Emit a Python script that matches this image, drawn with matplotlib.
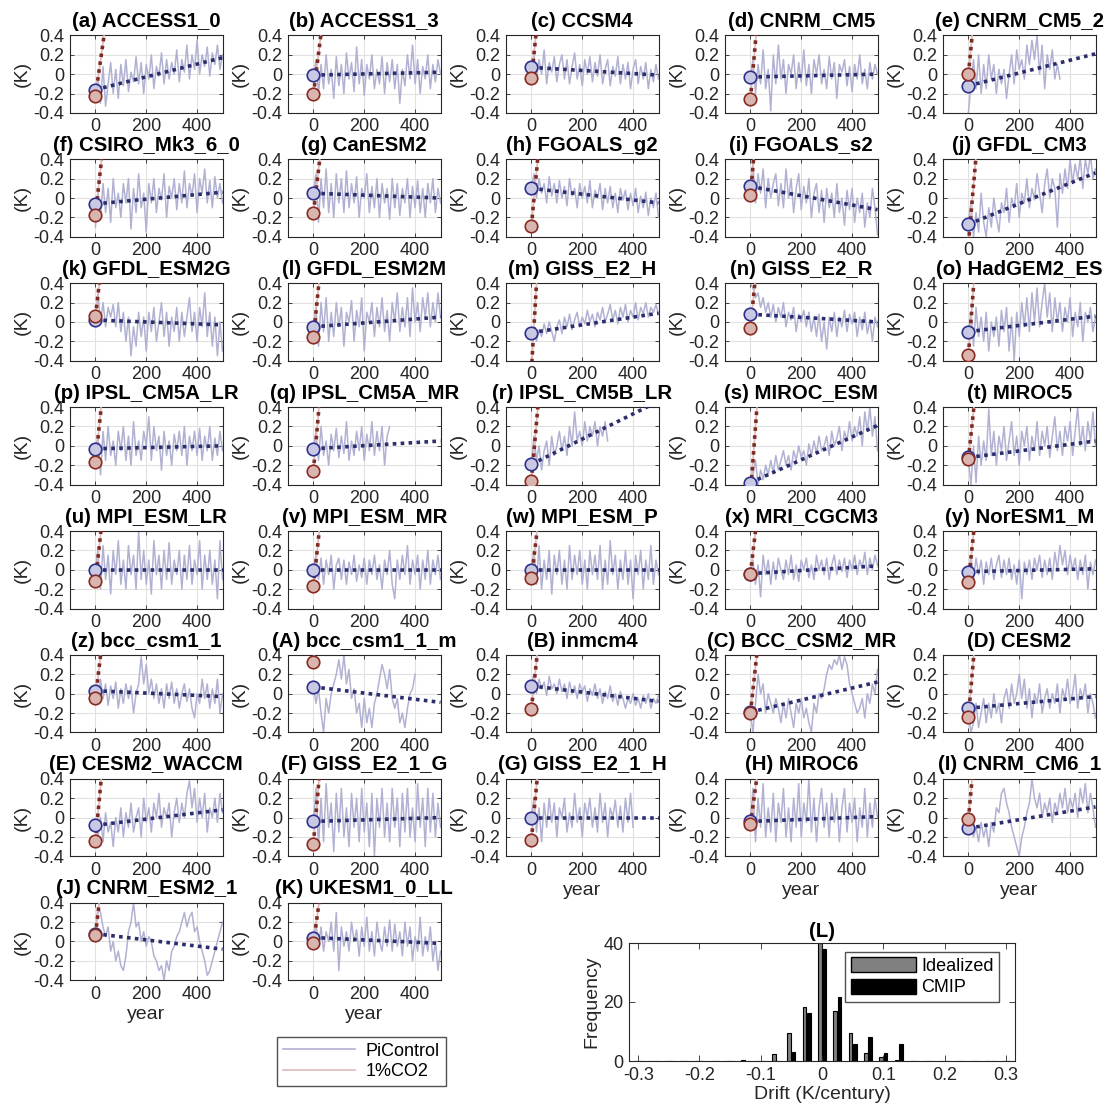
import numpy as np
import matplotlib
matplotlib.use('Agg')
import matplotlib.pyplot as plt
from matplotlib.lines import Line2D
from matplotlib.patches import Patch

plt.rcParams['font.family'] = ['Liberation Sans', 'DejaVu Sans']

# ---------------- data ----------------
letters = list('abcdefghijklmnopqrstuvwxyz') + list('ABCDEFGHIJK')
models = ['ACCESS1_0', 'ACCESS1_3', 'CCSM4', 'CNRM_CM5', 'CNRM_CM5_2',
          'CSIRO_Mk3_6_0', 'CanESM2', 'FGOALS_g2', 'FGOALS_s2', 'GFDL_CM3',
          'GFDL_ESM2G', 'GFDL_ESM2M', 'GISS_E2_H', 'GISS_E2_R', 'HadGEM2_ES',
          'IPSL_CM5A_LR', 'IPSL_CM5A_MR', 'IPSL_CM5B_LR', 'MIROC_ESM', 'MIROC5',
          'MPI_ESM_LR', 'MPI_ESM_MR', 'MPI_ESM_P', 'MRI_CGCM3', 'NorESM1_M',
          'bcc_csm1_1', 'bcc_csm1_1_m', 'inmcm4', 'BCC_CSM2_MR', 'CESM2',
          'CESM2_WACCM', 'GISS_E2_1_G', 'GISS_E2_1_H', 'MIROC6', 'CNRM_CM6_1',
          'CNRM_ESM2_1', 'UKESM1_0_LL']

# PiControl anomalies (K), one value every 10 years from year 0
pi_a = [-0.15, -0.05, -0.3, 0.08, -0.33, -0.1, 0.12, -0.2, 0.05, -0.25, 0.1, -0.12, 0.15, -0.18, 0.02, -0.08, 0.18, -0.1, 0.12, -0.2, 0.1, -0.05, 0.2, -0.15, 0.08, -0.02, 0.22, -0.1, 0.15, -0.05, 0.12, 0.0, 0.25, -0.08, 0.15, 0.02, 0.3, -0.05, 0.2, 0.05, 0.35, 0.0, 0.2, 0.08, 0.28, -0.02, 0.22, 0.1, 0.3, 0.05, 0.2]
pi_b = [-0.05, 0.15, -0.2, 0.1, -0.15, 0.2, -0.1, 0.05, -0.25, 0.18, -0.12, 0.1, -0.2, 0.22, -0.05, 0.12, -0.18, 0.28, -0.1, 0.15, -0.22, 0.1, -0.05, 0.2, -0.15, 0.05, -0.1, 0.18, -0.2, 0.12, -0.08, 0.15, -0.15, 0.1, -0.3, 0.05, -0.12, 0.2, -0.05, 0.3, -0.1, 0.15, -0.2, 0.08, -0.05, 0.2, -0.15, 0.1, -0.08, 0.15, 0.0]
pi_c = [0.05, 0.2, -0.05, 0.15, 0.0, 0.25, -0.1, 0.12, 0.02, 0.18, -0.08, 0.1, 0.2, -0.05, 0.15, -0.1, 0.08, 0.22, -0.05, 0.1, -0.12, 0.15, 0.0, 0.18, -0.08, 0.12, -0.02, 0.2, -0.1, 0.05, 0.15, -0.12, 0.08, -0.02, 0.18, -0.1, 0.1, -0.05, 0.12, -0.15, 0.05, 0.15, -0.1, 0.08, -0.05, 0.12, -0.15, 0.05, -0.08, 0.1, -0.05]
pi_d = [-0.05, 0.15, -0.2, 0.1, -0.1, 0.25, -0.15, 0.05, -0.38, 0.2, -0.1, 0.3, -0.05, 0.15, -0.2, 0.1, 0.0, 0.2, -0.15, 0.12, -0.08, 0.25, -0.12, 0.1, -0.2, 0.15, 0.0, 0.2, -0.1, 0.05, -0.15, 0.18, -0.05, 0.12, -0.25, 0.1, 0.02, 0.15, -0.12, 0.08, -0.18, 0.1, -0.05, 0.2, -0.1, 0.05, -0.15, 0.12, -0.05, 0.1, 0.0]
pi_e = [-0.4, -0.1, 0.15, -0.15, 0.2, -0.2, 0.1, -0.15, 0.2, -0.05, 0.1, -0.2, 0.05, -0.1, 0.05, -0.25, 0.0, 0.2, -0.1, 0.25, 0.05, 0.15, -0.05, 0.3, 0.1, 0.35, 0.15, 0.4, 0.0, 0.3, -0.15, 0.2, 0.05, 0.25, -0.05, 0.1, -0.05]
pi_f = [-0.3, 0.05, -0.2, 0.15, -0.15, 0.1, -0.25, 0.2, -0.1, 0.05, -0.2, 0.15, -0.05, 0.2, -0.32, 0.1, -0.15, 0.25, -0.1, 0.05, -0.35, 0.15, -0.05, 0.2, -0.15, 0.1, -0.02, 0.25, -0.2, 0.12, 0.0, 0.2, -0.12, 0.15, -0.05, 0.28, -0.1, 0.15, 0.02, 0.25, -0.15, 0.2, 0.05, 0.3, -0.05, 0.18, -0.1, 0.22, 0.0, 0.15, -0.05]
pi_g = [0.05, 0.25, -0.25, 0.2, -0.1, 0.3, -0.15, 0.15, -0.2, 0.25, -0.05, 0.2, -0.15, 0.28, -0.1, 0.15, -0.05, 0.22, -0.2, 0.1, 0.0, 0.25, -0.15, 0.12, -0.1, 0.2, -0.2, 0.15, -0.05, 0.1, -0.22, 0.2, -0.1, 0.15, -0.18, 0.1, -0.05, 0.2, -0.2, 0.12, -0.1, 0.18, -0.15, 0.1, -0.2, 0.15, -0.05, 0.2, -0.15, 0.1, -0.05]
pi_h = [0.1, 0.25, 0.0, 0.2, 0.05, 0.15, -0.05, 0.22, 0.02, 0.15, -0.05, 0.18, 0.0, 0.12, -0.08, 0.2, 0.02, 0.1, -0.1, 0.15, 0.0, 0.12, -0.05, 0.18, -0.1, 0.08, 0.0, 0.15, -0.12, 0.1, -0.05, 0.12, -0.1, 0.05, -0.15, 0.1, -0.02, 0.08, -0.12, 0.05, -0.08, 0.1, -0.15, 0.02, -0.1, 0.06, -0.18, 0.0, -0.1, 0.05, -0.2]
pi_i = [0.1, 0.35, -0.05, 0.25, 0.05, 0.3, -0.1, 0.2, 0.0, 0.15, 0.25, -0.08, 0.15, -0.1, 0.3, 0.0, 0.2, -0.15, 0.1, 0.25, -0.12, 0.12, -0.05, 0.2, -0.2, 0.05, 0.15, -0.15, 0.08, -0.25, 0.1, -0.1, 0.05, -0.2, 0.15, -0.15, 0.0, -0.28, 0.08, -0.12, 0.1, -0.25, 0.0, -0.15, 0.05, -0.3, -0.05, -0.2, 0.1, -0.1, -0.38]
pi_j = [-0.25, -0.05, -0.4, -0.15, -0.35, 0.05, -0.25, -0.4, -0.1, -0.3, 0.0, -0.2, -0.35, -0.05, -0.15, 0.1, -0.25, 0.0, -0.1, 0.15, -0.2, 0.05, -0.05, 0.2, -0.1, 0.1, -0.02, 0.25, 0.05, -0.15, 0.15, 0.3, 0.0, 0.2, 0.1, -0.3, 0.25, 0.05, 0.3, 0.1, 0.4, 0.15, 0.35, 0.2, 0.42, 0.1, 0.4, 0.25, 0.45, 0.2, 0.3]
pi_k = [0.05, 0.3, 0.0, 0.2, -0.05, 0.15, 0.05, 0.18, -0.05, 0.2, -0.1, 0.1, -0.2, 0.05, -0.35, -0.05, -0.25, 0.1, -0.15, 0.05, -0.3, 0.1, -0.1, 0.15, -0.2, 0.0, 0.2, -0.15, 0.1, -0.25, 0.05, -0.1, 0.15, -0.2, 0.1, -0.15, 0.05, 0.25, -0.1, 0.1, -0.2, 0.15, -0.05, 0.3, -0.15, 0.1, -0.25, 0.05, -0.35, 0.0, -0.3]
pi_l = [-0.05, 0.15, -0.25, 0.2, -0.1, 0.25, -0.2, 0.1, -0.15, 0.2, -0.05, 0.15, -0.25, 0.1, 0.0, 0.22, -0.2, 0.12, -0.05, 0.25, -0.3, 0.1, 0.0, 0.2, -0.15, 0.15, -0.05, 0.25, -0.1, 0.12, -0.2, 0.2, 0.0, 0.3, -0.1, 0.15, -0.05, 0.25, -0.15, 0.35, 0.0, 0.2, -0.1, 0.25, 0.05, 0.3, -0.05, 0.2, 0.0, 0.3, 0.05]
pi_m = [-0.15, -0.05, -0.2, -0.08, -0.15, -0.02, -0.12, 0.0, -0.1, -0.2, -0.05, 0.02, -0.12, 0.05, -0.05, 0.08, -0.08, 0.02, 0.1, -0.05, 0.05, -0.02, 0.12, 0.0, 0.08, -0.05, 0.1, 0.02, 0.15, 0.0, 0.08, 0.18, 0.02, 0.12, -0.02, 0.15, 0.05, 0.18, 0.0, 0.12, 0.05, 0.2, 0.02, 0.15, 0.08, 0.2, 0.05, 0.15, 0.1, 0.18, 0.08]
pi_n = [0.4, 0.35, 0.25, 0.3, 0.15, 0.25, 0.1, 0.2, 0.05, 0.18, 0.0, 0.15, 0.05, 0.2, -0.05, 0.1, 0.02, 0.15, -0.1, 0.08, 0.0, 0.12, -0.05, 0.1, -0.1, 0.05, -0.15, 0.08, -0.2, 0.0, -0.28, 0.05, -0.1, 0.1, -0.15, 0.05, -0.05, 0.12, -0.1, 0.08, -0.02, 0.1, -0.15, 0.05, -0.08, 0.1, -0.12, 0.02, -0.2, 0.05, -0.05]
pi_o = [-0.1, 0.1, -0.25, 0.15, -0.15, 0.05, -0.2, 0.1, -0.3, 0.0, -0.15, 0.05, -0.25, 0.12, -0.1, 0.15, -0.3, 0.05, -0.4, 0.1, -0.15, 0.2, -0.05, 0.25, -0.1, 0.3, 0.0, 0.35, -0.05, 0.2, 0.4, 0.05, 0.3, -0.1, 0.25, 0.0, 0.2, -0.1, 0.15, 0.0, 0.25, -0.15, 0.1, -0.05, 0.2, -0.2, 0.1, 0.0, 0.15, -0.1, 0.05]
pi_p = [-0.05, 0.1, -0.3, 0.15, -0.15, 0.2, -0.1, 0.05, -0.2, 0.15, -0.05, 0.2, -0.15, 0.1, -0.2, 0.25, -0.1, 0.05, -0.15, 0.15, 0.0, 0.3, -0.15, 0.2, -0.05, 0.1, -0.25, 0.15, -0.1, 0.05, -0.2, 0.12, -0.05, 0.15, -0.1, 0.2, -0.2, 0.1, -0.05, 0.15, -0.1, 0.18, -0.15, 0.1, -0.05, 0.2, -0.15, 0.08, -0.1, 0.15, -0.05]
pi_q = [-0.05, 0.15, -0.15, 0.2, -0.1, 0.05, -0.2, 0.12, -0.05, 0.18, -0.12, 0.1, -0.08, 0.25, -0.15, 0.05, -0.1, 0.15, -0.05, 0.2, -0.15, 0.12, -0.05, 0.25, -0.1, 0.15, -0.05, 0.2, -0.2, 0.1, 0.2]
pi_r = [-0.2, 0.1, -0.15, 0.0, -0.25, -0.05, 0.05, -0.2, 0.1, -0.1, 0.0, 0.15, -0.05, 0.1, -0.1, 0.2, 0.0, 0.35, 0.05, 0.15, 0.0, 0.25, 0.05, 0.2, 0.1, 0.25, 0.0, 0.2, 0.1, 0.25, 0.05]
pi_s = [-0.4, -0.3, -0.15, -0.4, -0.25, -0.35, -0.2, -0.3, -0.15, -0.28, -0.1, -0.25, -0.15, -0.05, -0.2, -0.1, -0.25, -0.05, -0.15, 0.0, -0.12, -0.05, -0.2, 0.02, -0.1, 0.05, -0.08, 0.1, -0.05, 0.0, 0.1, -0.1, 0.15, 0.0, 0.08, 0.2, -0.05, 0.15, 0.05, 0.25, 0.05, 0.2, 0.1, 0.3, 0.0, 0.35, 0.15, 0.4, 0.1, 0.3, -0.05]
pi_t = [-0.15, -0.4, 0.0, -0.38, 0.1, -0.2, 0.05, -0.15, 0.38, -0.1, 0.15, -0.2, 0.1, -0.05, 0.2, -0.15, 0.05, 0.25, -0.1, 0.1, -0.2, 0.15, 0.0, 0.2, -0.15, 0.1, -0.05, 0.25, -0.1, 0.15, 0.0, 0.2, -0.12, 0.1, 0.3, -0.05, 0.15, -0.1, 0.2, 0.05, 0.25, -0.1, 0.15, 0.4, 0.0, 0.2, -0.05, 0.25, 0.05, 0.35, 0.0]
pi_u = [0.0, 0.2, -0.2, 0.25, -0.1, 0.15, -0.25, 0.2, -0.05, 0.3, -0.15, 0.1, -0.2, 0.25, -0.05, 0.15, -0.2, 0.4, -0.1, 0.2, -0.15, 0.1, -0.25, 0.3, -0.05, 0.15, -0.2, 0.2, -0.1, 0.28, -0.15, 0.1, -0.05, 0.2, -0.2, 0.15, -0.1, 0.25, -0.15, 0.1, -0.05, 0.3, -0.2, 0.15, -0.1, 0.2, -0.15, 0.1, -0.3, 0.3, -0.1]
pi_v = [0.0, 0.15, -0.1, 0.12, -0.15, 0.1, -0.05, 0.15, -0.2, 0.05, 0.12, -0.1, 0.1, -0.15, 0.08, -0.05, 0.15, -0.12, 0.05, -0.08, 0.12, -0.15, 0.1, -0.05, 0.15, -0.1, 0.05, -0.2, 0.1, -0.05, 0.2, -0.15, -0.3, 0.1, -0.1, 0.15, -0.05, 0.25, -0.15, 0.1, -0.05, 0.15, -0.2, 0.1, -0.1, 0.2, -0.15, 0.1, -0.05, 0.15, -0.1]
pi_w = [0.0, 0.2, -0.15, 0.25, -0.2, 0.1, -0.1, 0.2, -0.25, 0.15, -0.05, 0.2, -0.15, 0.1, -0.2, 0.25, -0.1, 0.15, -0.05, 0.2, -0.15, 0.1, -0.2, 0.2, -0.05, 0.15, -0.1, 0.25, -0.2, 0.1, -0.15, 0.3, -0.05, 0.15, -0.2, 0.1, -0.1, 0.2, -0.15, 0.1, -0.3, 0.15, -0.05, 0.2, -0.2, 0.1, -0.1, 0.25, -0.15, 0.1, -0.05]
pi_x = [-0.05, 0.1, -0.15, 0.05, -0.28, 0.15, -0.05, 0.1, -0.15, 0.08, -0.1, 0.12, 0.0, -0.1, 0.1, -0.05, 0.15, -0.1, 0.05, -0.12, 0.1, 0.0, 0.12, -0.08, 0.05, -0.1, 0.15, 0.0, 0.1, -0.05, 0.12, -0.1, 0.05, 0.15, -0.05, 0.1, -0.02, 0.12, -0.08, 0.1, 0.0, 0.15, -0.05, 0.1, 0.02, 0.18, -0.05, 0.12, 0.0, 0.15, 0.05]
pi_y = [-0.05, 0.15, -0.1, 0.12, -0.05, 0.1, -0.15, 0.08, -0.05, 0.12, -0.1, 0.05, 0.15, -0.08, 0.1, -0.05, 0.12, -0.1, 0.05, -0.15, 0.1, -0.3, 0.08, -0.05, 0.1, -0.1, 0.12, 0.0, 0.15, -0.08, 0.1, -0.05, 0.12, -0.1, 0.18, 0.0, 0.25, 0.05, 0.2, -0.05, 0.15, 0.0, 0.12, -0.1, 0.1, -0.05, 0.15, -0.2, 0.08, -0.05, 0.1]
pi_z = [0.05, -0.1, 0.15, -0.05, 0.1, -0.12, 0.08, -0.05, 0.12, -0.15, 0.05, -0.1, 0.1, -0.05, 0.08, -0.2, 0.0, 0.1, 0.38, 0.1, 0.3, 0.0, 0.15, -0.05, 0.1, -0.1, 0.05, -0.15, 0.1, -0.05, 0.12, -0.1, 0.05, -0.15, 0.0, 0.1, -0.08, 0.05, -0.15, -0.25, 0.0, -0.1, 0.15, -0.05, 0.1, -0.15, 0.05, -0.1, 0.15, -0.2, 0.0]
pi_A = [0.1, -0.1, 0.05, -0.2, -0.4, -0.05, -0.2, 0.0, 0.1, 0.2, 0.35, 0.15, 0.4, 0.1, 0.25, -0.05, 0.05, -0.2, -0.1, -0.35, -0.05, -0.3, -0.15, -0.35, -0.1, 0.0, 0.15, 0.3, 0.2, 0.05, 0.25, -0.05, -0.15, -0.05, -0.3, -0.2, -0.35, -0.15, 0.0, 0.05, 0.2]
pi_B = [0.1, 0.2, 0.0, 0.15, 0.05, 0.12, -0.02, 0.18, 0.05, 0.1, 0.0, 0.15, 0.02, 0.1, -0.05, 0.12, 0.0, 0.08, -0.05, 0.1, 0.02, 0.08, -0.08, 0.05, -0.02, 0.1, -0.05, 0.05, -0.1, 0.02, -0.05, 0.08, -0.08, 0.0, -0.12, 0.02, -0.05, -0.15, -0.05, -0.1, 0.0, -0.12, -0.05, -0.15, -0.02, -0.1, 0.0, -0.15, -0.05, -0.1, -0.02]
pi_C = [-0.2, -0.4, -0.1, 0.2, 0.0, 0.1, -0.2, 0.0, -0.1, -0.2, -0.05, -0.15, -0.3, -0.1, -0.25, -0.05, -0.2, -0.35, -0.1, -0.2, -0.05, -0.25, -0.15, -0.3, -0.4, -0.1, -0.2, 0.0, -0.05, 0.05, 0.2, 0.3, 0.25, 0.35, 0.3, 0.4, 0.25, 0.38, 0.3, 0.1, 0.0, -0.1, -0.2, -0.15, -0.05, -0.25, 0.0, -0.1, 0.1, 0.0, 0.25]
pi_D = [-0.2, -0.4, -0.3, -0.1, -0.35, -0.2, -0.05, -0.3, -0.1, -0.25, 0.0, -0.2, -0.1, -0.3, -0.05, 0.05, -0.15, 0.1, -0.1, 0.0, 0.2, -0.05, 0.15, -0.15, 0.05, -0.25, 0.0, -0.1, 0.1, -0.2, -0.05, 0.05, -0.15, 0.0, -0.1, 0.1, -0.2, 0.05, -0.05, 0.15, -0.1, 0.0, 0.2, -0.15, 0.05, -0.05, 0.1, -0.2, 0.0, -0.1, -0.25]
pi_E = [-0.1, -0.2, 0.0, -0.25, 0.05, -0.15, -0.05, -0.3, 0.0, -0.15, 0.1, -0.2, 0.05, -0.1, 0.15, -0.15, 0.0, 0.1, -0.2, 0.2, -0.05, 0.1, -0.15, 0.15, 0.0, 0.25, -0.1, 0.1, 0.0, 0.15, -0.2, 0.05, 0.2, -0.05, 0.15, 0.0, 0.25, 0.38, 0.1, 0.3, -0.05, 0.2, 0.0, 0.25, -0.15, 0.1, 0.0, 0.2, -0.05, 0.25, 0.05]
pi_F = [-0.05, 0.3, -0.3, 0.2, -0.25, 0.35, -0.1, 0.15, -0.35, 0.25, -0.15, 0.3, -0.2, 0.1, -0.3, 0.25, -0.1, 0.2, -0.25, 0.3, -0.15, 0.15, -0.3, 0.25, -0.4, 0.2, -0.1, 0.3, -0.2, 0.15, -0.25, 0.3, -0.1, 0.2, -0.3, 0.25, -0.15, 0.3, -0.2, 0.1, -0.25, 0.35, -0.1, 0.2, -0.3, 0.3, -0.15, 0.25, -0.2, 0.15, -0.1]
pi_G = [0.0, 0.2, -0.15, 0.1, -0.25, 0.15, -0.1, 0.2, -0.05, 0.15, -0.2, 0.1, 0.0, 0.2, -0.15, 0.05, -0.1, 0.25, -0.05, 0.1, -0.2, 0.15, 0.0, 0.2, -0.1, 0.1, -0.15, 0.25, -0.05, 0.15, -0.2, 0.1, 0.0, 0.18, -0.1, 0.12, -0.15, 0.2, -0.05, 0.25, -0.1]
pi_H = [-0.05, 0.3, -0.25, 0.2, -0.1, 0.35, -0.2, 0.1, -0.15, 0.25, -0.25, 0.15, -0.05, 0.3, -0.2, 0.1, -0.25, 0.2, -0.1, 0.35, -0.2, 0.15, -0.05, 0.4, -0.15, 0.2, -0.25, 0.1, 0.3, -0.1, 0.15, -0.2, 0.25, -0.05, 0.2, -0.25, 0.1, 0.3, -0.15, 0.15, -0.05, 0.2, -0.25, 0.1, -0.1, 0.3, -0.2, 0.15, -0.1, 0.2, 0.0]
pi_I = [-0.1, 0.0, -0.2, -0.1, -0.25, -0.05, -0.2, -0.1, -0.3, -0.05, -0.15, 0.1, 0.05, 0.25, 0.3, 0.15, 0.05, -0.1, -0.2, -0.3, -0.4, -0.2, -0.1, 0.05, 0.15, 0.4, 0.2, 0.1, 0.25, 0.0, 0.15, 0.05, 0.2, -0.05, 0.15, 0.05, 0.25, 0.1, 0.3, 0.05, 0.2, 0.1, 0.25, 0.0, 0.3, 0.15, 0.35, 0.05, 0.25, 0.1, -0.1]
pi_J = [0.1, 0.35, 0.3, 0.15, 0.05, 0.15, -0.1, 0.0, -0.2, -0.1, -0.25, -0.3, -0.15, 0.1, 0.2, 0.4, 0.15, 0.2, 0.0, 0.1, -0.05, 0.05, 0.0, -0.15, -0.2, -0.3, -0.25, -0.4, -0.2, -0.3, -0.1, -0.05, 0.05, 0.1, 0.2, 0.3, 0.15, 0.25, 0.3, 0.1, 0.15, 0.0, -0.1, -0.2, -0.35, -0.3, -0.2, -0.1, 0.0, 0.1, 0.2]
pi_K = [0.05, 0.2, -0.05, 0.15, -0.1, 0.1, 0.0, 0.2, -0.1, 0.3, -0.3, 0.15, -0.05, 0.1, -0.1, 0.2, 0.0, 0.12, -0.15, 0.15, -0.05, 0.25, -0.1, 0.1, -0.15, 0.2, 0.0, -0.1, 0.15, -0.05, 0.22, -0.1, 0.18, -0.05, 0.1, -0.15, 0.2, -0.05, 0.15, -0.2, 0.05, -0.1, 0.25, -0.15, 0.05, -0.1, 0.15, -0.2, 0.0, -0.3, -0.1]

pi_series = [pi_a, pi_b, pi_c, pi_d, pi_e, pi_f, pi_g, pi_h, pi_i, pi_j, pi_k, pi_l,
             pi_m, pi_n, pi_o, pi_p, pi_q, pi_r, pi_s, pi_t, pi_u, pi_v, pi_w, pi_x,
             pi_y, pi_z, pi_A, pi_B, pi_C, pi_D, pi_E, pi_F, pi_G, pi_H, pi_I, pi_J, pi_K]

# PiControl drift trend: value at year 0 and at year 500 (K)
trend_start = [-0.16, -0.01, 0.07, -0.03, -0.12, -0.06, 0.05, 0.10, 0.12, -0.27,
               0.02, -0.05, -0.11, 0.08, -0.10, -0.03, -0.03, -0.19, -0.38, -0.12,
               0.00, 0.00, 0.00, -0.04, -0.02, 0.03, 0.07, 0.08, -0.19, -0.15,
               -0.08, -0.04, 0.00, -0.04, -0.11, 0.08, 0.04]
trend_end = [0.17, 0.02, -0.01, 0.00, 0.21, 0.06, 0.00, -0.05, -0.12, 0.26,
             -0.03, 0.05, 0.09, 0.00, 0.06, 0.00, 0.05, 0.46, 0.21, 0.05,
             0.00, 0.00, 0.00, 0.04, 0.01, -0.03, -0.09, -0.08, 0.12, -0.03,
             0.08, 0.00, 0.00, 0.01, 0.11, -0.08, -0.02]
# 1%CO2 run: value at year 0 (K) and warming rate (K/yr)
co2_start = [-0.23, -0.21, -0.04, -0.26, 0.00, -0.18, -0.15, -0.29, 0.03, -0.47,
             0.06, -0.16, -0.50, -0.06, -0.34, -0.17, -0.26, -0.36, -0.50, -0.14,
             -0.12, -0.17, -0.09, -0.04, -0.13, -0.05, 0.33, -0.16, -0.20, -0.24,
             -0.24, -0.27, -0.23, -0.07, -0.02, 0.07, -0.02]
co2_rate = [0.0185, 0.021, 0.025, 0.03, 0.027, 0.024, 0.022, 0.028, 0.03, 0.03,
            0.022, 0.026, 0.045, 0.026, 0.035, 0.025, 0.03, 0.03, 0.035, 0.025,
            0.024, 0.025, 0.022, 0.022, 0.025, 0.022, 0.02, 0.025, 0.024, 0.03,
            0.028, 0.03, 0.028, 0.019, 0.029, 0.022, 0.019]

# histogram (L)
drift_bins = [-0.3, -0.275, -0.25, -0.225, -0.2, -0.175, -0.15, -0.125, -0.1, -0.075,
              -0.05, -0.025, 0.0, 0.025, 0.05, 0.075, 0.1, 0.125, 0.15, 0.175,
              0.2, 0.225, 0.25, 0.275, 0.3]
freq_idealized = [0, 0, 0, 0, 0, 0, 0, 0.3, 0, 2.3, 9.6, 18.3, 40, 17.1, 9.4, 2.6, 1.5,
                  0.3, 0, 0, 0, 0, 0, 0, 0]
freq_cmip = [0, 0, 0, 0, 0, 0, 0, 0, 0, 0, 2.9, 16.4, 37.9, 21.7, 5.6, 8.3, 2.8, 5.6,
             0, 0, 0, 0, 0, 0, 0]

# ---------------- style ----------------
W, H = 1106, 1112
C_PI = '#b1b2d3'
C_PINK = '#ddb9b9'
C_TREND = '#2b2d6c'
C_CO2 = '#7e2b24'
TXT = '#262626'
GRID = '#e1e1e1'

fig = plt.figure(figsize=(W / 100, H / 100), dpi=100)

col_left = [70, 288, 506, 725, 943]
row_top = [35.4 + 123.9 * r for r in range(8)]
aw, ah = 152.5, 77.5


def style_axes(ax):
    for sp in ax.spines.values():
        sp.set_color(TXT)
        sp.set_linewidth(0.8)
    ax.tick_params(direction='in', length=3, width=0.6, colors=TXT,
                   labelsize=13, top=True, right=True, pad=4)
    ax.grid(True, color=GRID, linewidth=0.8)
    ax.set_axisbelow(True)


xlabel_panels = {32, 33, 34, 35, 36}

for idx, (let, name) in enumerate(zip(letters, models)):
    r, c = divmod(idx, 5)
    x0 = col_left[c] / W
    y0 = 1 - (row_top[r] + ah) / H
    ax = fig.add_axes([x0, y0, aw / W, ah / H])
    style_axes(ax)
    ser = np.array(pi_series[idx])
    yrs = np.arange(len(ser)) * 10
    ax.plot(yrs, ser, color=C_PI, lw=1.1, zorder=2)
    # 1%CO2 run (light) and its trend (dotted)
    x_end = (0.5 - co2_start[idx]) / co2_rate[idx]
    ax.plot([0, x_end], [co2_start[idx], 0.5], color=C_PINK, lw=1.2, zorder=3)
    ax.plot([0, x_end], [co2_start[idx], 0.5], color=C_CO2, lw=2.6,
            linestyle=(0, (1, 1.2)), zorder=4)
    # PiControl trend
    ax.plot([0, 500], [trend_start[idx], trend_end[idx]], color=C_TREND, lw=2.6,
            linestyle=(0, (1, 1.2)), zorder=5)
    ax.plot([0], [trend_start[idx]], 'o', ms=9, mfc='#c9c9e3', mec='#2e318c',
            mew=1.2, zorder=6)
    ax.plot([0], [co2_start[idx]], 'o', ms=9, mfc='#d8b5ae', mec='#8a2b22',
            mew=1.2, zorder=7)
    ax.set_xlim(-100, 500)
    ax.set_ylim(-0.4, 0.4)
    ax.set_xticks([0, 200, 400])
    ax.set_xticklabels(['0', '200', '400'])
    ax.set_yticks([-0.4, -0.2, 0, 0.2, 0.4])
    ax.set_yticklabels(['-0.4', '-0.2', '0', '0.2', '0.4'])
    ax.set_ylabel('(K)', fontsize=14, color=TXT, labelpad=2)
    ax.set_title(f'({let}) {name}', fontsize=14.7, fontweight='bold', pad=6)
    if idx in xlabel_panels:
        ax.set_xlabel('year', fontsize=14, color=TXT, labelpad=2)

# bottom legend
leg_handles = [Line2D([], [], color=C_PI, lw=1.2), Line2D([], [], color=C_PINK, lw=1.2)]
fig.legend(leg_handles, ['PiControl', '1%CO2'], loc='center',
           bbox_to_anchor=(361.5 / W, 1 - 1061.5 / H), fontsize=13,
           handlelength=4.0, frameon=True, fancybox=False, edgecolor=TXT,
           borderpad=0.3, labelspacing=0.2, handletextpad=0.6)

# histogram (L)
hx = fig.add_axes([629 / W, 1 - 1061 / H, 386 / W, 118 / H])
for sp in hx.spines.values():
    sp.set_color(TXT)
    sp.set_linewidth(0.8)
bins = np.array(drift_bins)
hx.bar(bins - 0.0035, freq_idealized, width=0.0062, color='#808080',
       edgecolor='black', linewidth=0.8, label='Idealized')
hx.bar(bins + 0.0035, freq_cmip, width=0.0062, color='black',
       edgecolor='black', linewidth=0.8, label='CMIP')
hx.set_xlim(-0.315, 0.315)
hx.set_ylim(0, 40)
hx.set_xticks([-0.3, -0.2, -0.1, 0, 0.1, 0.2, 0.3])
hx.set_xticklabels(['-0.3', '-0.2', '-0.1', '0', '0.1', '0.2', '0.3'])
hx.set_yticks([0, 20, 40])
hx.tick_params(direction='in', length=4, width=0.6, colors=TXT, labelsize=13,
               top=True, right=True, pad=4)
hx.set_xlabel('Drift (K/century)', fontsize=14, color=TXT, labelpad=2)
hx.set_ylabel('Frequency', fontsize=14, color=TXT, labelpad=2)
hx.set_title('(L)', fontsize=14.7, fontweight='bold', pad=4)
hl = hx.legend(handles=[Patch(facecolor='#808080', edgecolor='black'),
                        Patch(facecolor='black', edgecolor='black')],
               labels=['Idealized', 'CMIP'], loc='upper right', fontsize=13,
               frameon=True, fancybox=False, edgecolor=TXT, handlelength=3.6,
               handleheight=0.9, borderpad=0.3, labelspacing=0.2,
               handletextpad=0.3, borderaxespad=0,
               bbox_to_anchor=(0.9585, 0.924))

fig.savefig('out.png', dpi=100)
